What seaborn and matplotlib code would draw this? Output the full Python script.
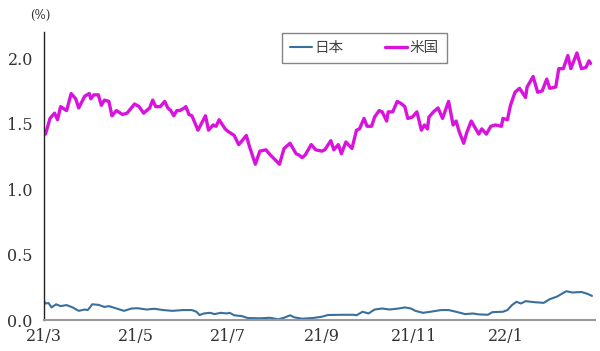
import matplotlib
matplotlib.use("Agg")
import matplotlib.pyplot as plt
import seaborn as sns
import pandas as pd

# 長期金利（10年債利回り）
jp_dates = ["2021-03-01", "2021-03-02", "2021-03-04", "2021-03-06", "2021-03-09", "2021-03-12",
            "2021-03-16", "2021-03-20", "2021-03-24", "2021-03-28", "2021-03-30", "2021-04-02",
            "2021-04-06", "2021-04-10", "2021-04-13", "2021-04-18", "2021-04-23", "2021-04-28",
            "2021-05-02", "2021-05-08", "2021-05-13", "2021-05-19", "2021-05-25", "2021-06-01",
            "2021-06-07", "2021-06-10", "2021-06-12", "2021-06-15", "2021-06-19", "2021-06-22",
            "2021-06-26", "2021-06-30", "2021-07-02", "2021-07-05", "2021-07-10", "2021-07-14",
            "2021-07-22", "2021-07-29", "2021-08-03", "2021-08-07", "2021-08-11", "2021-08-14",
            "2021-08-19", "2021-08-26", "2021-09-01", "2021-09-05", "2021-09-14", "2021-09-22",
            "2021-09-24", "2021-09-28", "2021-10-02", "2021-10-06", "2021-10-11", "2021-10-16",
            "2021-10-22", "2021-10-26", "2021-10-30", "2021-11-02", "2021-11-07", "2021-11-12",
            "2021-11-19", "2021-11-24", "2021-11-29", "2021-12-05", "2021-12-10", "2021-12-14",
            "2021-12-20", "2021-12-23", "2021-12-30", "2022-01-02", "2022-01-05", "2022-01-08",
            "2022-01-11", "2022-01-14", "2022-01-20", "2022-01-26", "2022-01-30", "2022-02-04",
            "2022-02-10", "2022-02-14", "2022-02-20", "2022-02-24", "2022-02-27"]
jp_values = [0.146, 0.126, 0.130, 0.096, 0.120, 0.106,
             0.114, 0.096, 0.070, 0.080, 0.076, 0.120,
             0.116, 0.100, 0.106, 0.088, 0.070, 0.088,
             0.090, 0.080, 0.086, 0.076, 0.070, 0.076,
             0.076, 0.063, 0.038, 0.050, 0.055, 0.045,
             0.055, 0.050, 0.055, 0.036, 0.030, 0.015,
             0.013, 0.017, 0.005, 0.017, 0.036, 0.020,
             0.010, 0.015, 0.025, 0.038, 0.040, 0.040,
             0.036, 0.063, 0.050, 0.080, 0.088, 0.080,
             0.088, 0.096, 0.088, 0.070, 0.055, 0.063,
             0.076, 0.076, 0.063, 0.045, 0.050, 0.043,
             0.040, 0.060, 0.063, 0.076, 0.114, 0.139,
             0.126, 0.144, 0.136, 0.131, 0.159, 0.180,
             0.220, 0.210, 0.214, 0.200, 0.184]

us_dates = ["2021-03-01", "2021-03-02", "2021-03-05", "2021-03-08", "2021-03-10", "2021-03-12",
            "2021-03-16", "2021-03-19", "2021-03-22", "2021-03-24", "2021-03-28", "2021-03-31",
            "2021-04-01", "2021-04-03", "2021-04-06", "2021-04-08", "2021-04-10", "2021-04-13",
            "2021-04-15", "2021-04-18", "2021-04-22", "2021-04-25", "2021-04-30", "2021-05-03",
            "2021-05-06", "2021-05-10", "2021-05-12", "2021-05-14", "2021-05-17", "2021-05-20",
            "2021-05-22", "2021-05-24", "2021-05-26", "2021-05-28", "2021-05-30", "2021-06-02",
            "2021-06-03", "2021-06-05", "2021-06-07", "2021-06-11", "2021-06-16", "2021-06-18",
            "2021-06-21", "2021-06-23", "2021-06-25", "2021-06-29", "2021-07-01", "2021-07-05",
            "2021-07-08", "2021-07-11", "2021-07-13", "2021-07-15", "2021-07-19", "2021-07-22",
            "2021-07-26", "2021-07-29", "2021-08-04", "2021-08-07", "2021-08-11", "2021-08-15",
            "2021-08-17", "2021-08-19", "2021-08-21", "2021-08-25", "2021-08-28", "2021-09-01",
            "2021-09-03", "2021-09-07", "2021-09-09", "2021-09-12", "2021-09-14", "2021-09-17",
            "2021-09-21", "2021-09-24", "2021-09-26", "2021-09-29", "2021-10-01", "2021-10-04",
            "2021-10-06", "2021-10-09", "2021-10-11", "2021-10-14", "2021-10-15", "2021-10-18",
            "2021-10-21", "2021-10-24", "2021-10-26", "2021-10-28", "2021-10-31", "2021-11-03",
            "2021-11-06", "2021-11-08", "2021-11-10", "2021-11-11", "2021-11-14", "2021-11-17",
            "2021-11-20", "2021-11-24", "2021-11-27", "2021-11-29", "2021-12-01", "2021-12-04",
            "2021-12-06", "2021-12-09", "2021-12-11", "2021-12-14", "2021-12-16", "2021-12-19",
            "2021-12-22", "2021-12-25", "2021-12-29", "2021-12-30", "2022-01-02", "2022-01-04",
            "2022-01-07", "2022-01-10", "2022-01-14", "2022-01-15", "2022-01-19", "2022-01-22",
            "2022-01-25", "2022-01-28", "2022-01-30", "2022-02-03", "2022-02-05", "2022-02-08",
            "2022-02-11", "2022-02-13", "2022-02-17", "2022-02-20", "2022-02-23", "2022-02-25",
            "2022-02-26"]
us_values = [1.43, 1.42, 1.54, 1.58, 1.53, 1.63,
             1.60, 1.73, 1.69, 1.62, 1.71, 1.73,
             1.69, 1.72, 1.72, 1.64, 1.68, 1.67,
             1.56, 1.60, 1.57, 1.58, 1.65, 1.63,
             1.58, 1.62, 1.68, 1.63, 1.63, 1.67,
             1.62, 1.60, 1.56, 1.60, 1.60, 1.62,
             1.63, 1.57, 1.56, 1.45, 1.56, 1.45,
             1.49, 1.48, 1.53, 1.46, 1.44, 1.41,
             1.34, 1.38, 1.41, 1.33, 1.19, 1.29,
             1.30, 1.26, 1.19, 1.31, 1.35, 1.27,
             1.26, 1.24, 1.26, 1.34, 1.30, 1.29,
             1.30, 1.37, 1.30, 1.34, 1.27, 1.36,
             1.31, 1.45, 1.46, 1.54, 1.48, 1.48,
             1.55, 1.60, 1.59, 1.52, 1.59, 1.59,
             1.67, 1.65, 1.63, 1.54, 1.55, 1.59,
             1.45, 1.49, 1.46, 1.55, 1.59, 1.62,
             1.54, 1.67, 1.49, 1.52, 1.44, 1.35,
             1.43, 1.52, 1.48, 1.42, 1.46, 1.42,
             1.48, 1.49, 1.48, 1.54, 1.53, 1.64,
             1.74, 1.77, 1.70, 1.78, 1.86, 1.74,
             1.75, 1.84, 1.77, 1.78, 1.92, 1.92,
             2.02, 1.92, 2.04, 1.92, 1.93, 1.98,
             1.96]

tick_dates = ["2021-03-01", "2021-05-01", "2021-07-01", "2021-09-01",
              "2021-11-01", "2022-01-01", "2022-03-01"]
tick_labels = ["21/3", "21/5", "21/7", "21/9", "21/11", "22/1", ""]
y_ticks = [0.0, 0.5, 1.0, 1.5, 2.0]

jp = pd.DataFrame({"date": pd.to_datetime(jp_dates), "value": jp_values})
us = pd.DataFrame({"date": pd.to_datetime(us_dates), "value": us_values})

sns.set_style("white")
plt.rcParams['font.family'] = ['DejaVu Serif', 'Noto Sans CJK JP']
plt.rcParams['axes.unicode_minus'] = False

fig = plt.figure(figsize=(6.0, 3.51), dpi=100)
ax = fig.add_axes([0.0733, 0.0883, 0.9184, 0.8205])

sns.lineplot(data=jp, x="date", y="value", ax=ax, color="#3a6f9c", linewidth=1.5, label="日本")
sns.lineplot(data=us, x="date", y="value", ax=ax, color="#d814dc", linewidth=2.4, label="米国")

ax.set_xlim(pd.Timestamp("2021-03-01"), pd.Timestamp("2022-03-01"))
ax.set_ylim(0, 2.2)
ax.set_xticks(pd.to_datetime(tick_dates))
ax.set_xticklabels(tick_labels)
ax.set_yticks(y_ticks)
ax.set_yticklabels([f"{v:.1f}" for v in y_ticks])
ax.set_xlabel("")
ax.set_ylabel("")

ax.tick_params(axis="x", direction="in", length=4, width=1, color="#333333",
               labelsize=11.5, pad=6, labelcolor="#333333")
ax.tick_params(axis="y", direction="in", length=3, width=0.8, color="#999999",
               labelsize=11.5, pad=8, labelcolor="#333333")

for side in ["top", "right"]:
    ax.spines[side].set_visible(False)
ax.spines["left"].set_color("#222222")
ax.spines["left"].set_linewidth(1.0)
ax.spines["bottom"].set_color("#999999")
ax.spines["bottom"].set_linewidth(1.5)

fig.text(0.067, 0.955, "(%)", ha="center", va="center", fontsize=8.5, color="#333333")

ax.get_legend().remove()
leg = fig.legend(loc="center", bbox_to_anchor=(0.6075, 0.863), ncol=2, frameon=True,
                 fancybox=False, handlelength=1.5, handletextpad=0.2, columnspacing=2.8,
                 prop={"family": "Noto Sans CJK JP", "size": 10.5}, borderpad=0.55)
leg.get_frame().set_edgecolor("#666666")
leg.get_frame().set_linewidth(1.0)
for t in leg.get_texts():
    t.set_color("#444444")

fig.savefig("out.png", dpi=100)
